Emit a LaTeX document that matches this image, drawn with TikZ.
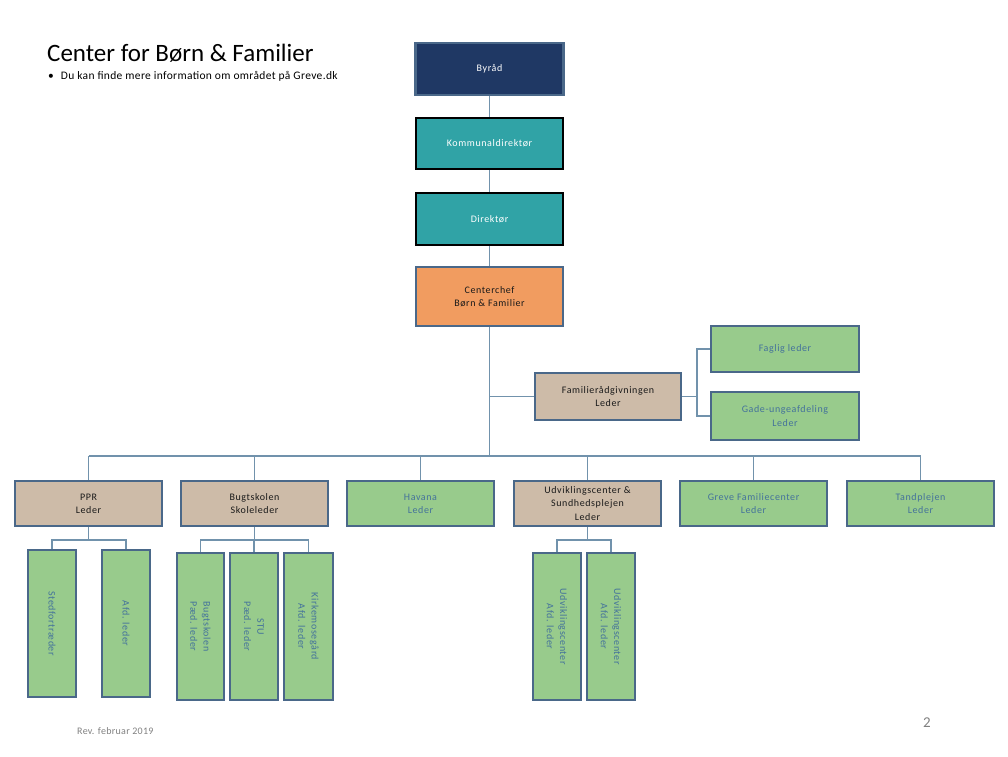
\documentclass[tikz,border=0pt]{standalone}
\usepackage{fontspec}
\setmainfont{Carlito}
\newfontfamily\boxfont[LetterSpace=6]{Carlito}
\newfontfamily\subfont[LetterSpace=3]{Carlito}
\definecolor{navy}{HTML}{1F3864}
\definecolor{tealc}{HTML}{30A3A6}
\definecolor{orangec}{HTML}{F19C60}
\definecolor{tanc}{HTML}{CDBBA8}
\definecolor{greenc}{HTML}{98CB8C}
\definecolor{borderc}{HTML}{4A6889}
\definecolor{linec}{HTML}{7192AC}
\definecolor{gtext}{HTML}{44729B}
\definecolor{darktext}{HTML}{1A1A1A}
\tikzset{
  box/.style={draw=borderc, line width=2.5pt, inner sep=0pt, align=center,
    font=\boxfont\fontsize{10}{13.3}\selectfont},
  hbox/.style={box, minimum width=147pt, minimum height=46pt},
  vbox/.style={box, minimum width=147pt, minimum height=47pt, rotate=-90, fill=greenc, text=gtext},
  navybox/.style={hbox, fill=navy, text=white, minimum height=52pt, minimum width=148pt},
  tealbox/.style={hbox, fill=tealc, text=white, draw=black, minimum height=51pt},
  tanbox/.style={hbox, fill=tanc, text=darktext},
  greenbox/.style={hbox, fill=greenc, text=gtext},
  conn/.style={draw=linec, line width=1.2pt},
}
\begin{document}
\begin{tikzpicture}[x=1pt,y=-1pt]
\useasboundingbox (0,0) rectangle (1008,756);
% titles
\node[anchor=base west, inner sep=0pt, font=\fontsize{25}{29}\selectfont] (title) at (47,61) {Center for Børn \& Familier};
\node[anchor=base west, inner sep=0pt, font=\subfont\fontsize{11.5}{13}\selectfont] (sub) at (48,79) {•\hspace{7pt}Du kan finde mere information om området på Greve.dk};
% top chain
\node[navybox] (byrad) at (489.5,69) {Byråd};
\node[tealbox] (komm) at (489.5,143.5) {Kommunaldirektør};
\node[tealbox, minimum height=52pt] (dir) at (489.5,219) {Direktør};
\node[hbox, fill=orangec, text=darktext, minimum height=59pt] (cc) at (489.5,296.5) {Centerchef\\Børn \& Familier};
% family counselling
\node[tanbox, minimum width=146pt, minimum height=47pt] (fam) at (608,396.5) {Familierådgivningen\\Leder};
\node[greenbox, minimum width=148pt] (fag) at (785,349) {Faglig leder};
\node[greenbox, minimum width=148pt, minimum height=48pt] (gade) at (785,416) {Gade-ungeafdeling\\Leder};
% level row
\node[tanbox, minimum height=45pt] (ppr) at (88.5,503.5) {PPR\\Leder};
\node[tanbox, minimum height=45pt] (bugt) at (254.5,503.5) {Bugtskolen\\Skoleleder};
\node[greenbox, minimum height=45pt] (hav) at (420.5,503.5) {Havana\\Leder};
\node[tanbox, minimum height=45pt] (udv) at (587.5,503.5) {Udviklingscenter \&\\Sundhedsplejen\\Leder};
\node[greenbox, minimum height=45pt] (greve) at (753.5,503.5) {Greve Familiecenter\\Leder};
\node[greenbox, minimum height=45pt] (tand) at (920.5,503.5) {Tandplejen\\Leder};
% vertical boxes
\node[vbox, minimum height=48pt] (sted) at (52,623.5) {Stedfortræder};
\node[vbox, minimum height=48pt] (afd) at (126,623.5) {Afd. leder};
\node[vbox] (bp) at (200.5,626.5) {Bugtskolen\\Pæd. leder};
\node[vbox, minimum height=48pt] (stu) at (254,626.5) {STU\\Pæd. leder};
\node[vbox, minimum height=49pt] (kirk) at (308.5,626.5) {Kirkemosegård\\Afd. leder};
\node[vbox, minimum height=48pt] (u1) at (557,626.5) {Udviklingscenter\\Afd. leder};
\node[vbox, minimum height=48pt] (u2) at (611,626.5) {Udviklingscenter\\Afd. leder};
% footer
\node[anchor=base west, inner sep=0pt, text=gray, font=\subfont\fontsize{10}{12}\selectfont] (rev) at (77,734) {Rev. februar 2019};
\node[anchor=base, inner sep=0pt, text=gray, font=\fontsize{15}{17}\selectfont] (page) at (927,727) {2};
% coordinates
\coordinate (busL) at (88.5,456);
\coordinate (busR) at (920.5,456);
\coordinate (famJ) at (697,396.5);
\coordinate (pprJ) at (88.5,540);
\coordinate (bugtJ) at (254.5,540);
\coordinate (udvJ) at (587.5,540);
% connectors
\draw[conn] (byrad.south) -- (komm.north);
\draw[conn] (komm.south) -- (dir.north);
\draw[conn] (dir.south) -- (cc.north);
\draw[conn] (cc.south) -- (cc.south |- busL);
\draw[conn] (busL) -- (busR);
\draw[conn] (cc.south |- fam.west) -- (fam.west);
\draw[conn] (fam.east) -- (famJ);
\draw[conn] (fag.west) -- (famJ |- fag.west) -- (famJ |- gade.west) -- (gade.west);
\foreach \n in {ppr,bugt,hav,udv,greve,tand} {\draw[conn] (\n.north) -- (\n.north |- busL);}
\draw[conn] (ppr.south) -- (pprJ);
\draw[conn] (sted.west) -- (sted.west |- pprJ) -- (afd.west |- pprJ) -- (afd.west);
\draw[conn] (bugt.south) -- (bugtJ);
\draw[conn] (bp.west) -- (bp.west |- bugtJ) -- (kirk.west |- bugtJ) -- (kirk.west);
\draw[conn] (stu.west) -- (stu.west |- bugtJ);
\draw[conn] (udv.south) -- (udvJ);
\draw[conn] (u1.west) -- (u1.west |- udvJ) -- (u2.west |- udvJ) -- (u2.west);
\end{tikzpicture}
\end{document}
